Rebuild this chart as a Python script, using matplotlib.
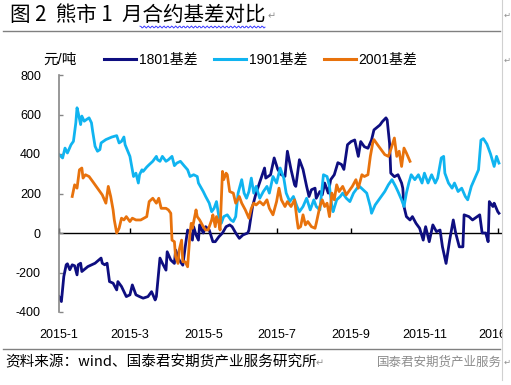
import numpy as np
import pandas as pd
import matplotlib
matplotlib.use('Agg')
import matplotlib.pyplot as plt
import matplotlib.dates as mdates
from matplotlib.lines import Line2D
from matplotlib.patches import Rectangle

plt.rcParams['font.family'] = ['Liberation Sans', 'Noto Sans CJK SC', 'DejaVu Sans']
plt.rcParams['axes.unicode_minus'] = False

# 1801基差
d1801 = ['2015-01-01', '2015-01-03', '2015-01-05', '2015-01-07', '2015-01-08', '2015-01-10',
         '2015-01-12', '2015-01-14', '2015-01-16', '2015-01-17', '2015-01-19', '2015-01-20',
         '2015-01-25', '2015-01-31', '2015-02-05', '2015-02-06', '2015-02-08', '2015-02-10',
         '2015-02-12', '2015-02-15', '2015-02-18', '2015-02-19', '2015-02-22', '2015-02-26',
         '2015-03-01', '2015-03-03', '2015-03-06', '2015-03-09', '2015-03-12', '2015-03-16',
         '2015-03-19', '2015-03-22', '2015-03-23', '2015-03-26', '2015-03-28', '2015-03-31',
         '2015-04-01', '2015-04-04', '2015-04-07', '2015-04-08', '2015-04-11', '2015-04-14',
         '2015-04-16', '2015-04-18', '2015-04-20', '2015-04-22', '2015-04-23', '2015-04-25',
         '2015-04-27', '2015-04-28', '2015-05-01', '2015-05-03', '2015-05-06', '2015-05-09',
         '2015-05-11', '2015-05-14', '2015-05-17', '2015-05-20', '2015-05-23', '2015-05-25',
         '2015-05-28', '2015-05-31', '2015-06-03', '2015-06-07', '2015-06-08', '2015-06-11',
         '2015-06-14', '2015-06-21', '2015-06-22', '2015-06-26', '2015-06-29', '2015-07-02',
         '2015-07-05', '2015-07-08', '2015-07-10', '2015-07-13', '2015-07-16', '2015-07-17',
         '2015-07-20', '2015-07-23', '2015-07-26', '2015-07-28', '2015-07-30', '2015-08-02',
         '2015-08-03', '2015-08-06', '2015-08-08', '2015-08-10', '2015-08-13', '2015-08-15',
         '2015-08-18', '2015-08-21', '2015-08-24', '2015-08-26', '2015-08-29', '2015-09-01',
         '2015-09-04', '2015-09-07', '2015-09-09', '2015-09-12', '2015-09-15', '2015-09-18',
         '2015-09-20', '2015-09-25', '2015-09-27', '2015-09-30', '2015-10-01', '2015-10-03',
         '2015-10-04', '2015-10-07', '2015-10-10', '2015-10-13', '2015-10-14', '2015-10-15',
         '2015-10-17', '2015-10-20', '2015-10-22', '2015-10-25', '2015-10-28', '2015-10-31',
         '2015-11-02', '2015-11-05', '2015-11-08', '2015-11-11', '2015-11-14', '2015-11-16',
         '2015-11-19', '2015-11-22', '2015-11-25', '2015-11-27', '2015-11-30', '2015-12-03',
         '2015-12-04', '2015-12-08', '2015-12-11', '2015-12-17', '2015-12-19', '2015-12-22',
         '2015-12-24', '2015-12-25', '2015-12-28', '2015-12-29', '2016-01-01', '2016-01-02']
v1801 = [-322, -347, -220, -161, -156, -186,
         -161, -166, -212, -161, -153, -195,
         -170, -153, -127, -153, -161, -153,
         -246, -254, -288, -246, -271, -322,
         -313, -263, -313, -322, -330, -322,
         -297, -339, -322, -127, -153, -188,
         -95, -137, -154, -86, -137, -163,
         -70, 15, 0, -36, 32, -10,
         -36, 41, 0, 32, 15, -44,
         -44, -19, 0, 32, 41, 32,
         0, -27, -10, 0, 15, 134,
         203, 329, 278, 295, 380, 322,
         295, 287, 414, 322, 244, 236,
         371, 322, 236, 185, 219, 227,
         176, 210, 193, 253, 202, 270,
         295, 356, 347, 322, 447, 463,
         471, 388, 463, 437, 429, 471,
         522, 547, 564, 583, 573, 454,
         303, 285, 295, 253, 227, 134,
         83, 66, 83, 49, 24, -36,
         32, -44, 41, 7, 15, -70,
         -154, -36, 66, 0, -70, -70,
         92, 83, 66, 92, 0, 0,
         -44, 159, 134, 151, 108, 100]

# 1901基差
d1901 = ['2015-01-01', '2015-01-04', '2015-01-06', '2015-01-08', '2015-01-11', '2015-01-13',
         '2015-01-15', '2015-01-16', '2015-01-17', '2015-01-19', '2015-01-20', '2015-01-22',
         '2015-01-24', '2015-01-26', '2015-01-28', '2015-01-29', '2015-01-31', '2015-02-02',
         '2015-02-04', '2015-02-05', '2015-02-09', '2015-02-14', '2015-02-18', '2015-02-20',
         '2015-02-22', '2015-02-24', '2015-02-25', '2015-03-01', '2015-03-03', '2015-03-04',
         '2015-03-06', '2015-03-08', '2015-03-09', '2015-03-11', '2015-03-12', '2015-03-15',
         '2015-03-17', '2015-03-20', '2015-03-23', '2015-03-24', '2015-03-26', '2015-03-28',
         '2015-03-31', '2015-04-02', '2015-04-05', '2015-04-07', '2015-04-09', '2015-04-12',
         '2015-04-15', '2015-04-18', '2015-04-20', '2015-04-23', '2015-04-26', '2015-04-27',
         '2015-05-01', '2015-05-03', '2015-05-06', '2015-05-08', '2015-05-10', '2015-05-12',
         '2015-05-14', '2015-05-16', '2015-05-18', '2015-05-21', '2015-05-24', '2015-05-26',
         '2015-05-28', '2015-05-30', '2015-06-02', '2015-06-04', '2015-06-06', '2015-06-08',
         '2015-06-10', '2015-06-12', '2015-06-14', '2015-06-17', '2015-06-20', '2015-06-23',
         '2015-06-25', '2015-06-28', '2015-07-01', '2015-07-04', '2015-07-07', '2015-07-09',
         '2015-07-12', '2015-07-15', '2015-07-18', '2015-07-20', '2015-07-23', '2015-07-26',
         '2015-07-29', '2015-08-01', '2015-08-03', '2015-08-06', '2015-08-09', '2015-08-12',
         '2015-08-14', '2015-08-16', '2015-08-17', '2015-08-20', '2015-08-23', '2015-08-25',
         '2015-08-28', '2015-08-31', '2015-09-03', '2015-09-06', '2015-09-08', '2015-09-11',
         '2015-09-14', '2015-09-17', '2015-09-18', '2015-09-21', '2015-09-25', '2015-09-29',
         '2015-10-02', '2015-10-05', '2015-10-08', '2015-10-10', '2015-10-13', '2015-10-15',
         '2015-10-17', '2015-10-19', '2015-10-21', '2015-10-24', '2015-10-27', '2015-10-30',
         '2015-11-01', '2015-11-04', '2015-11-07', '2015-11-10', '2015-11-12', '2015-11-15',
         '2015-11-17', '2015-11-18', '2015-11-21', '2015-11-24', '2015-11-26', '2015-11-29',
         '2015-12-02', '2015-12-05', '2015-12-07', '2015-12-10', '2015-12-13', '2015-12-16',
         '2015-12-18', '2015-12-20', '2015-12-23', '2015-12-26', '2015-12-29', '2015-12-31',
         '2016-01-02']
v1901 = [397, 380, 430, 405, 447, 464,
         558, 634, 608, 549, 592, 566,
         575, 583, 558, 515, 439, 414,
         422, 456, 473, 486, 493, 456,
         464, 486, 447, 388, 320, 286,
         303, 253, 295, 320, 312, 334,
         346, 363, 388, 371, 363, 388,
         363, 371, 388, 341, 354, 363,
         341, 320, 286, 295, 286, 253,
         210, 185, 151, 108, 125, 159,
         83, 49, 83, 92, 66, 58,
         83, 202, 270, 202, 176, 210,
         278, 202, 236, 176, 210, 236,
         202, 286, 253, 329, 278, 202,
         159, 185, 134, 108, 134, 176,
         117, 168, 134, 117, 295, 286,
         236, 134, 108, 168, 185, 202,
         176, 159, 202, 227, 236, 219,
         202, 134, 100, 142, 176, 210,
         244, 270, 236, 210, 168, 134,
         202, 253, 295, 270, 295, 253,
         303, 253, 295, 253, 278, 380,
         388, 303, 253, 227, 253, 210,
         227, 185, 168, 236, 278, 320,
         470, 478, 450, 400, 337, 388,
         354]

# 2001基差
d2001 = ['2015-01-12', '2015-01-14', '2015-01-16', '2015-01-18', '2015-01-20', '2015-01-21',
         '2015-01-23', '2015-01-26', '2015-01-29', '2015-02-02', '2015-02-06', '2015-02-09',
         '2015-02-11', '2015-02-13', '2015-02-15', '2015-02-16', '2015-02-18', '2015-02-20',
         '2015-02-22', '2015-02-24', '2015-02-26', '2015-03-01', '2015-03-03', '2015-03-06',
         '2015-03-10', '2015-03-15', '2015-03-17', '2015-03-20', '2015-03-23', '2015-03-25',
         '2015-03-27', '2015-03-31', '2015-04-02', '2015-04-04', '2015-04-05', '2015-04-07',
         '2015-04-08', '2015-04-10', '2015-04-11', '2015-04-13', '2015-04-14', '2015-04-16',
         '2015-04-18', '2015-04-20', '2015-04-21', '2015-04-22', '2015-04-25', '2015-04-26',
         '2015-04-28', '2015-05-01', '2015-05-03', '2015-05-05', '2015-05-08', '2015-05-09',
         '2015-05-11', '2015-05-12', '2015-05-14', '2015-05-15', '2015-05-17', '2015-05-18',
         '2015-05-20', '2015-05-21', '2015-05-23', '2015-05-26', '2015-05-28', '2015-05-31',
         '2015-06-02', '2015-06-05', '2015-06-08', '2015-06-10', '2015-06-12', '2015-06-14',
         '2015-06-17', '2015-06-20', '2015-06-23', '2015-06-25', '2015-06-28', '2015-07-01',
         '2015-07-03', '2015-07-05', '2015-07-08', '2015-07-10', '2015-07-13', '2015-07-16',
         '2015-07-18', '2015-07-19', '2015-07-21', '2015-07-23', '2015-07-25', '2015-07-27',
         '2015-07-30', '2015-08-02', '2015-08-03', '2015-08-06', '2015-08-08', '2015-08-10',
         '2015-08-12', '2015-08-14', '2015-08-16', '2015-08-18', '2015-08-20', '2015-08-22',
         '2015-08-25', '2015-08-28', '2015-08-31', '2015-09-02', '2015-09-05', '2015-09-07',
         '2015-09-10', '2015-09-12', '2015-09-15', '2015-09-17', '2015-09-19', '2015-09-20',
         '2015-09-23', '2015-09-26', '2015-09-29', '2015-10-02', '2015-10-04', '2015-10-07',
         '2015-10-09', '2015-10-11', '2015-10-13', '2015-10-15', '2015-10-17', '2015-10-20']
v2001 = [185, 244, 227, 320, 329, 278,
         295, 286, 261, 227, 193, 151,
         236, 185, 117, 66, 0, 24,
         75, 66, 83, 58, 75, 66,
         66, 83, 159, 176, 151, 176,
         125, 125, 117, 100, -36, -44,
         -120, -154, -86, -36, -146, -146,
         -171, 0, 49, 24, 117, 83,
         66, 32, 15, 15, 66, 92,
         32, 83, 49, 15, 312, 270,
         303, 295, 210, 202, 151, 185,
         151, 117, 75, 125, 151, 142,
         159, 142, 168, 125, 92, 159,
         227, 168, 134, 159, 134, 168,
         66, 24, 32, 92, 41, 58,
         32, 24, 49, 134, 168, 134,
         151, 83, 202, 168, 244, 210,
         236, 193, 219, 236, 270, 227,
         295, 286, 295, 388, 456, 473,
         447, 422, 397, 388, 422, 481,
         388, 414, 337, 430, 405, 363]

series = [('1801基差', d1801, v1801, '#0E0E80'),
          ('1901基差', d1901, v1901, '#10B4F0'),
          ('2001基差', d2001, v2001, '#E8720C')]

xtick_dates = ['2015-01-01', '2015-03-01', '2015-05-01', '2015-07-01',
               '2015-09-01', '2015-11-01', '2016-01-01']
xtick_labels = ['2015-1', '2015-3', '2015-5', '2015-7', '2015-9', '2015-11', '2016-1']
yticks = [-400, -200, 0, 200, 400, 600, 800]

W, H = 511, 385
fig = plt.figure(figsize=(W / 100, H / 100), dpi=100)
ax = fig.add_axes([59 / W, 1 - 312 / H, (501 - 59) / W, (312 - 75) / H])

for name, d, v, c in series:
    ax.plot(pd.to_datetime(d), v, color=c, lw=2.0, label=name, solid_joinstyle='round')

x0 = mdates.date2num(pd.Timestamp('2015-01-01'))
ax.set_xlim(x0, x0 + 367.7)
ax.set_ylim(-400, 800)

ax.set_xticks(pd.to_datetime(xtick_dates))
ax.set_xticklabels(xtick_labels)
ax.tick_params(axis='x', length=0, pad=12, labelsize=9)
ax.set_yticks(yticks)
ax.set_yticklabels([str(t) for t in yticks])
ax.tick_params(axis='y', direction='in', length=3, width=1, color='#868686',
               pad=13, labelsize=9)

for s in ['top', 'right', 'bottom']:
    ax.spines[s].set_visible(False)
ax.spines['left'].set_color('#868686')
ax.spines['left'].set_linewidth(1.2)

# zero line with small upward ticks
zero = ax.secondary_xaxis(400 / 1200)
zero.set_xticks(pd.to_datetime(xtick_dates))
zero.set_xticklabels([])
zero.tick_params(direction='in', length=3.5, width=1, color='black')
zero.spines['bottom'].set_color('black')
zero.spines['bottom'].set_linewidth(1)

# legend
handles = [Line2D([], [], color=c, lw=2.2) for _, _, _, c in series]
fig.legend(handles, [s[0] for s in series], loc='center left',
           bbox_to_anchor=(104 / W, 1 - 60 / H), ncol=3, frameon=False,
           fontsize=10, handlelength=2.3, handletextpad=0.2, columnspacing=1.2,
           borderpad=0, borderaxespad=0)
fig.text(43 / W, 1 - 60 / H, '元/吨', fontsize=10.5, va='center', ha='left')

# document framing
cjk = ['Noto Sans CJK SC', 'DejaVu Sans']
fig.text(10 / W, 1 - 15 / H, '图 2  熊市 1  月合约基差对比', fontsize=14.8,
         va='center', ha='left', family=cjk)
fig.text(268 / W, 1 - 16 / H, '↵', fontsize=7, color='#909090',
         va='center', ha='left', family='DejaVu Sans')
# spell-check squiggle under part of the title
wx = np.linspace(140, 265, 120)
fig.add_artist(Line2D(wx / W, 1 - (27 + 1.0 * np.sin(wx * 1.6)) / H,
                      color='#3a3aff', lw=0.7))
fig.add_artist(Line2D([3 / W, 500 / W], [1 - 31 / H] * 2, color='#808080', lw=1))
fig.add_artist(Line2D([3 / W, 500 / W], [1 - 349 / H] * 2, color='#808080', lw=1))
fig.text(5 / W, 1 - 362 / H, '资料来源：wind、国泰君安期货产业服务研究所', fontsize=10.5,
         va='center', ha='left', family=cjk)
fig.text(316 / W, 1 - 363 / H, '↵', fontsize=7, color='#909090',
         va='center', ha='left', family='DejaVu Sans')
fig.text(377 / W, 1 - 362 / H, '国泰君安期货产业服务', fontsize=9, color='#8c8c8c',
         va='center', ha='left', family=cjk)

# crop at the right edge like the screenshot
fig.add_artist(Rectangle((502 / W, 0), 1 - 502 / W, 1, transform=fig.transFigure,
                         facecolor='white', edgecolor='none', zorder=10))
fig.add_artist(Line2D([502 / W] * 2, [1 - 380 / H, 1], color='#d0d0d0', lw=0.8, zorder=11))
for yy in (15, 60, 362):
    t = fig.text(503.5 / W, 1 - yy / H, '↵', fontsize=6, color='#909090',
                 va='center', ha='left', family='DejaVu Sans')
    t.set_zorder(12)

fig.savefig('out.png', dpi=100)
